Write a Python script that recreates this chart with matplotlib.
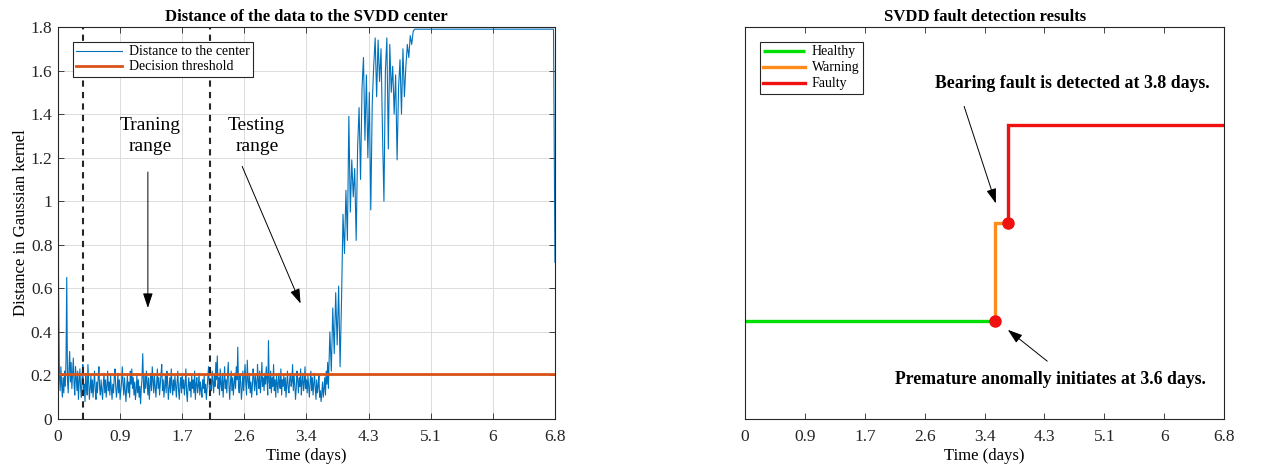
import numpy as np
import matplotlib
matplotlib.use("Agg")
import matplotlib.pyplot as plt

plt.rcParams['font.family'] = ['Liberation Serif', 'DejaVu Serif']

# ---------------- data ----------------
# SVDD distance, healthy/testing part: sampled every 0.01 days from 0 to 3.69 days
distance_early = [
    0.88, 0.55, 0.20, 0.13, 0.24, 0.16, 0.10, 0.19, 0.12, 0.22,
    0.15, 0.27, 0.65, 0.18, 0.12, 0.23, 0.31, 0.17, 0.26, 0.14,
    0.21, 0.28, 0.16, 0.11, 0.24, 0.19, 0.13, 0.22, 0.09, 0.17,
    0.23, 0.14, 0.10, 0.19, 0.25, 0.12, 0.16, 0.08, 0.21, 0.15,
    0.11, 0.25, 0.17, 0.09, 0.14, 0.20, 0.12, 0.18, 0.10, 0.16,
    0.22, 0.13, 0.09, 0.17, 0.12, 0.19, 0.24, 0.14, 0.11, 0.18,
    0.13, 0.09, 0.16, 0.21, 0.12, 0.18, 0.10, 0.15, 0.22, 0.13,
    0.17, 0.11, 0.20, 0.14, 0.09, 0.16, 0.12, 0.19, 0.23, 0.15,
    0.10, 0.14, 0.21, 0.12, 0.18, 0.09, 0.13, 0.17, 0.24, 0.16,
    0.11, 0.19, 0.13, 0.08, 0.15, 0.20, 0.12, 0.17, 0.10, 0.22,
    0.16, 0.23, 0.14, 0.19, 0.11, 0.17, 0.09, 0.13, 0.20, 0.12,
    0.18, 0.10, 0.15, 0.07, 0.14, 0.19, 0.30, 0.16, 0.12, 0.20,
    0.14, 0.22, 0.17, 0.11, 0.19, 0.09, 0.15, 0.21, 0.13, 0.24,
    0.18, 0.12, 0.20, 0.15, 0.10, 0.17, 0.23, 0.14, 0.19, 0.11,
    0.16, 0.21, 0.25, 0.13, 0.18, 0.10, 0.15, 0.20, 0.12, 0.22,
    0.17, 0.09, 0.14, 0.19, 0.12, 0.23, 0.16, 0.11, 0.18, 0.13,
    0.20, 0.15, 0.10, 0.17, 0.22, 0.13, 0.09, 0.16, 0.19, 0.12,
    0.21, 0.14, 0.18, 0.11, 0.16, 0.23, 0.12, 0.08, 0.15, 0.19,
    0.13, 0.17, 0.10, 0.20, 0.14, 0.18, 0.12, 0.22, 0.09, 0.16,
    0.19, 0.12, 0.15, 0.21, 0.11, 0.17, 0.13, 0.10, 0.18, 0.14,
    0.20, 0.12, 0.16, 0.09, 0.14, 0.19, 0.24, 0.15, 0.11, 0.18,
    0.13, 0.22, 0.17, 0.12, 0.20, 0.15, 0.26, 0.18, 0.29, 0.14,
    0.19, 0.11, 0.23, 0.16, 0.13, 0.21, 0.10, 0.17, 0.24, 0.14,
    0.18, 0.12, 0.20, 0.26, 0.15, 0.09, 0.17, 0.22, 0.13, 0.19,
    0.11, 0.16, 0.21, 0.14, 0.24, 0.18, 0.33, 0.15, 0.12, 0.20,
    0.17, 0.09, 0.14, 0.22, 0.13, 0.19, 0.25, 0.16, 0.11, 0.27,
    0.18, 0.14, 0.21, 0.12, 0.17, 0.10, 0.15, 0.23, 0.19, 0.13,
    0.20, 0.16, 0.11, 0.25, 0.18, 0.14, 0.22, 0.12, 0.17, 0.26,
    0.15, 0.19, 0.13, 0.21, 0.16, 0.24, 0.18, 0.11, 0.36, 0.17,
    0.14, 0.22, 0.12, 0.19, 0.15, 0.25, 0.13, 0.18, 0.10, 0.20,
    0.16, 0.12, 0.21, 0.17, 0.14, 0.23, 0.11, 0.18, 0.15, 0.20,
    0.13, 0.19, 0.10, 0.16, 0.22, 0.14, 0.12, 0.18, 0.21, 0.15,
    0.17, 0.25, 0.13, 0.20, 0.16, 0.09, 0.14, 0.22, 0.18, 0.12,
    0.19, 0.15, 0.23, 0.11, 0.17, 0.21, 0.13, 0.16, 0.24, 0.14,
    0.18, 0.12, 0.20, 0.15, 0.10, 0.17, 0.22, 0.13, 0.19, 0.11,
    0.16, 0.21, 0.14, 0.09, 0.18, 0.12, 0.15, 0.20, 0.10, 0.13,
    0.08, 0.12, 0.17, 0.10, 0.14, 0.19, 0.11, 0.22, 0.16, 0.26,
]
early_step_days = 0.01
# degradation part: sampled every 0.02 days from 3.70 to 4.88 days
ramp_start_day = 3.70
distance_ramp = [
    0.14, 0.40, 0.22, 0.51, 0.30, 0.58, 0.34, 0.61, 0.24, 0.55,
    0.94, 0.76, 1.05, 0.82, 1.39, 0.95, 1.19, 1.02, 1.15, 0.82,
    1.25, 1.43, 1.10, 1.52, 1.66, 1.28, 1.58, 1.20, 1.50, 0.96,
    1.45, 1.62, 1.75, 1.48, 1.74, 1.55, 1.70, 1.32, 1.00, 1.60,
    1.75, 1.24, 1.72, 1.50, 1.62, 1.40, 1.58, 1.19, 1.52, 1.65,
    1.40, 1.70, 1.48, 1.62, 1.72, 1.66, 1.76, 1.72, 1.78, 1.79,
]
ramp_step_days = 0.02
# saturated tail of the distance curve
tail_time = [6.78, 6.80]
tail_distance = [1.79, 0.72]

threshold = 0.205
train_start, train_end = 0.34, 2.08

# fault detection results
t_anomaly = 3.55
t_fault = 3.73
level_healthy, level_warning, level_faulty = 1, 2, 3

xticks = [0, 0.85, 1.7, 2.55, 3.4, 4.25, 5.1, 5.95, 6.8]
xticklabels = ['0', '0.9', '1.7', '2.6', '3.4', '4.3', '5.1', '6', '6.8']
yticks = [0, 0.2, 0.4, 0.6, 0.8, 1.0, 1.2, 1.4, 1.6, 1.8]
yticklabels = ['0', '0.2', '0.4', '0.6', '0.8', '1', '1.2', '1.4', '1.6', '1.8']

# ---------------- figure ----------------
fig = plt.figure(figsize=(12.63, 4.68), dpi=100)
ax1 = fig.add_axes([0.0459, 0.1047, 0.3935, 0.8376])
ax2 = fig.add_axes([0.5899, 0.1047, 0.3793, 0.8376])

spine_col = '#262626'
for ax in (ax1, ax2):
    for s in ax.spines.values():
        s.set_color(spine_col)
        s.set_linewidth(0.8)
    ax.tick_params(direction='in', length=4, width=0.6, colors=spine_col,
                   labelsize=12.5, labelcolor='#262626')
    ax.tick_params(axis='x', pad=7)
    ax.tick_params(axis='y', pad=4)
    ax.set_xticks(xticks)
    ax.set_xticklabels(xticklabels)
    ax.set_xlim(0, 6.8)

# ---- left ----
t_early = np.arange(len(distance_early)) * early_step_days
t_ramp = ramp_start_day + np.arange(len(distance_ramp)) * ramp_step_days
t_all = np.concatenate([t_early, t_ramp, tail_time])
d_all = np.concatenate([distance_early, distance_ramp, tail_distance])

ax1.grid(True, color='#dcdcdc', linewidth=0.7)
ax1.set_axisbelow(True)
l1, = ax1.plot(t_all, d_all, color='#0072BD', lw=0.8, label='Distance to the center')
l2, = ax1.plot([0, 6.8], [threshold, threshold], color='#D95319', lw=2.0,
               label='Decision threshold')
ax1.axvline(train_start, color='#262626', ls=(0, (3, 2.5)), lw=1.5)
ax1.axvline(train_end, color='#262626', ls=(0, (3, 2.5)), lw=1.5)
ax1.set_ylim(0, 1.8)
ax1.set_yticks(yticks)
ax1.set_yticklabels(yticklabels)
ax1.tick_params(top=True, right=True)
ax1.set_title('Distance of the data to the SVDD center', fontsize=12,
              fontweight='bold', pad=4)
ax1.set_xlabel('Time (days)', fontsize=12, labelpad=2)
ax1.set_ylabel('Distance in Gaussian kernel', fontsize=12.1, labelpad=1)
leg1 = ax1.legend(handles=[l1, l2], loc='upper left', bbox_to_anchor=(0.03, 0.962),
                  fontsize=10, frameon=True, fancybox=False, edgecolor='#262626',
                  framealpha=1, borderpad=0.25, labelspacing=0.15, handlelength=3.3,
                  handletextpad=0.5, borderaxespad=0)
leg1.get_frame().set_linewidth(0.8)

ax1.text(1.26, 1.30, 'Traning\nrange', ha='center', va='center', fontsize=14,
         linespacing=1.3)
ax1.text(2.72, 1.30, 'Testing\nrange', ha='center', va='center', fontsize=14,
         linespacing=1.3)
ax1.annotate('', xy=(1.23, 0.51), xytext=(1.23, 1.134),
             arrowprops=dict(arrowstyle='-|>,head_length=0.9,head_width=0.3',
                             color='k', lw=0.7, shrinkA=0, shrinkB=0))
ax1.annotate('', xy=(3.32, 0.53), xytext=(2.52, 1.16),
             arrowprops=dict(arrowstyle='-|>,head_length=0.9,head_width=0.3',
                             color='k', lw=0.7, shrinkA=0, shrinkB=0))

# ---- right ----
g, = ax2.plot([0, t_anomaly], [level_healthy, level_healthy], color='#00E000',
              lw=2.4, label='Healthy', solid_capstyle='butt')
w, = ax2.plot([t_anomaly, t_anomaly, t_fault],
              [level_healthy, level_warning, level_warning], color='#FF8C1A',
              lw=2.4, label='Warning', solid_joinstyle='miter')
f, = ax2.plot([t_fault, t_fault, 6.8], [level_warning, level_faulty, level_faulty],
              color='#F01010', lw=2.4, label='Faulty', solid_joinstyle='miter')
ax2.plot([t_anomaly, t_fault], [level_healthy, level_warning], 'o',
         color='#F01010', ms=8, zorder=5)
ax2.set_ylim(0, 4)
ax2.set_yticks([])
ax2.tick_params(top=True, right=False)
ax2.set_title('SVDD fault detection results', fontsize=12, fontweight='bold', pad=4)
ax2.set_xlabel('Time (days)', fontsize=12, labelpad=2)
leg2 = ax2.legend(handles=[g, w, f], loc='upper left', bbox_to_anchor=(0.031, 0.962),
                  fontsize=10, frameon=True, fancybox=False, edgecolor='#262626',
                  framealpha=1, borderpad=0.25, labelspacing=0.22, handlelength=3.0,
                  handletextpad=0.5, borderaxespad=0)
leg2.get_frame().set_linewidth(0.8)

ax2.text(4.64, 3.42, 'Bearing fault is detected at 3.8 days.', ha='center',
         va='center', fontsize=12.8, fontweight='bold')
ax2.text(4.33, 0.40, 'Premature anomally initiates at 3.6 days.', ha='center',
         va='center', fontsize=12.8, fontweight='bold')
ax2.annotate('', xy=(3.56, 2.2), xytext=(3.11, 3.19),
             arrowprops=dict(arrowstyle='-|>,head_length=0.9,head_width=0.3',
                             color='k', lw=0.7, shrinkA=0, shrinkB=0))
ax2.annotate('', xy=(3.73, 0.91), xytext=(4.29, 0.59),
             arrowprops=dict(arrowstyle='-|>,head_length=0.9,head_width=0.3',
                             color='k', lw=0.7, shrinkA=0, shrinkB=0))

fig.savefig('out.png', dpi=100)
